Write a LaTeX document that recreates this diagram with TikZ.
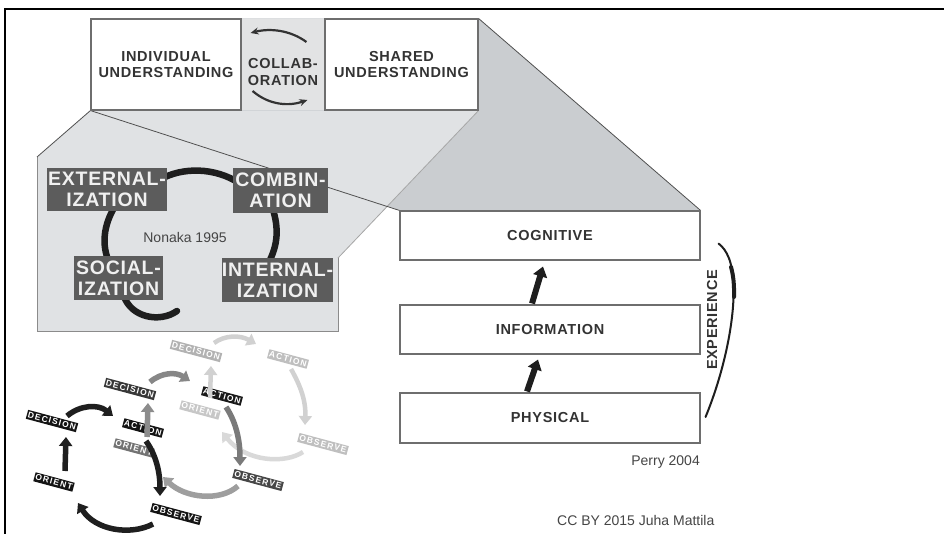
\documentclass[tikz,border=0pt]{standalone}
\usepackage{fontspec}
\setmainfont{Liberation Sans}
\newfontfamily\spaced[LetterSpace=5]{Liberation Sans}
\newfontfamily\tagfont[LetterSpace=4]{Liberation Sans}
\newfontfamily\oodafont[LetterSpace=14]{Liberation Sans}
\usetikzlibrary{arrows.meta,calc,backgrounds}

\definecolor{funnel}{HTML}{CACDD0}
\definecolor{pane}{HTML}{E0E2E4}
\definecolor{collabfill}{HTML}{E2E3E4}
\definecolor{boxline}{HTML}{6E6E6E}
\definecolor{ink}{HTML}{333333}
\definecolor{tagfill}{HTML}{5C5C5C}
\definecolor{arcink}{HTML}{1E1E1E}
\definecolor{notegray}{HTML}{454545}
\definecolor{edgeink}{HTML}{505050}

\pgfdeclarelayer{arcs}
\pgfsetlayers{background,arcs,main}

\begin{document}
\begin{tikzpicture}[x=1pt, y=-1pt,
  topbox/.style={draw=boxline, line width=1.1pt, fill=white, inner sep=0pt, align=center, text=ink,
    font=\spaced\bfseries\fontsize{14.5}{16.5}\selectfont},
  ttext/.style={inner sep=0pt, align=center, text=ink, font=\spaced\bfseries\fontsize{14.5}{16.5}\selectfont},
  tag/.style={fill=tagfill, text=white!94!black, inner sep=0pt, align=center,
    font=\tagfont\bfseries\fontsize{19.5}{21}\selectfont},
  ooda/.style={fill=#1, text=white, inner xsep=1.2pt, inner ysep=1.6pt, rotate=-15,
    font=\oodafont\bfseries\fontsize{8.5}{9}\selectfont},
  note/.style={inner sep=0pt, text=notegray, font=\fontsize{14}{16}\selectfont},
  seci/.style={draw=arcink, line width=6.5pt, line cap=round},
  rise/.style={draw=arcink, line width=6pt, -{Triangle[width=14pt,length=10pt]}},
  trade/.style={draw=ink, line width=2.2pt, -{Stealth[length=8pt,width=7pt]}},
  oodaarrow/.style={draw=#1, line width=5.5pt, -{Triangle[width=13pt,length=9pt]}},
  thinedge/.style={draw=edgeink, line width=0.8pt}
]
\useasboundingbox (0,0) rectangle (944,534);

% ---- top row: individual / collaboration / shared ----
\node[fill=collabfill, minimum width=84pt, minimum height=91pt, inner sep=0pt] (collab) at (283,64.5) {};
\node[ttext] (collabtext) at (283,72) {COLLAB-\\ORATION};
\node[topbox, minimum width=150pt, minimum height=91pt] (indiv) at (166,64.5) {INDIVIDUAL\\UNDERSTANDING};
\node[topbox, minimum width=153pt, minimum height=91pt] (shared) at (401.5,64.5) {SHARED\\UNDERSTANDING};

\draw[trade] ($(shared.west)+(-18,-22.5)$) .. controls (290,30) and (270,28) .. ($(indiv.east)+(9,-31.5)$);
\draw[trade] ($(indiv.east)+(11,26.5)$) .. controls (270,106) and (290,106) .. ($(shared.west)+(-17,35.5)$);

% ---- layer stack ----
\node[topbox, minimum width=300pt, minimum height=49pt] (cog) at (550,235.5) {COGNITIVE};
\node[topbox, minimum width=300pt, minimum height=49pt] (info) at (550,329.5) {INFORMATION};
\node[topbox, minimum width=300pt, minimum height=50pt] (phys) at (550,418) {PHYSICAL};

\draw[rise] ($(info.north)+(-18,-1)$) -- ($(cog.south)+(-7,6)$);
\draw[rise] ($(phys.north)+(-23,-1)$) -- ($(info.south)+(-12,5)$);

\node[ttext, rotate=90] (exp) at (712,320) {EXPERIENCE};
\draw[arcink, line width=2pt, line cap=round] ($(phys.east)+(5,-1)$) .. controls (724,372) and (735,320) .. (733.5,284)
  .. controls (732.5,262) and (727,250) .. ($(cog.south east)+(18,-17)$);
\draw[arcink, line width=4pt, line cap=round] (734,297) .. controls (734.3,285) and (733.5,276) .. (731,267);

\node[note, anchor=east] (perry) at (700,462) {Perry 2004};
\node[note, anchor=west] (cc) at (557,520) {CC BY 2015 Juha Mattila};

% ---- knowledge creation spiral ----
\node[tag, minimum width=120pt, minimum height=43pt] (ext) at (107,189.5) {EXTERNAL-\\IZATION};
\node[tag, minimum width=95pt, minimum height=45pt] (comb) at (280.5,190.5) {COMBIN-\\ATION};
\node[tag, minimum width=89pt, minimum height=44pt] (social) at (118.5,278) {SOCIAL-\\IZATION};
\node[tag, minimum width=111pt, minimum height=44pt] (intern) at (277.5,280) {INTERNAL-\\IZATION};
\node[note] (nonaka) at (185,237) {Nonaka 1995};
\coordinate (secitail) at (177,311);

\begin{pgfonlayer}{arcs}
  \draw[seci] ($(ext.east)+(-7,-10)$) .. controls (182,167) and (215,167) .. ($(comb.west)+(7,-7)$);
  \draw[seci] ($(comb.south)+(-8,-5)$) .. controls (279,228) and (278,245) .. ($(intern.north)+(-9,5)$);
  \draw[seci] ($(ext.south)+(8,-5)$) .. controls (103,226) and (102,245) .. ($(social.north)+(-10,5)$);
  \draw[seci] ($(social.south)+(5,-5)$) .. controls (131,318) and (160,323) .. (secitail);
\end{pgfonlayer}

% ---- backdrop: projection planes and frame ----
\begin{pgfonlayer}{background}
  \fill[white] (0,0) rectangle (944,534);
  \fill[funnel] (indiv.south west) -- (cog.north west) -- (cog.north east) -- (shared.north east) -- (indiv.north west) -- cycle;
  \fill[pane] (indiv.south west) -- (37,157) -- (37,331) -- (338,331) -- (338,258) -- (shared.south east) -- cycle;
  \draw[boxline!80, line width=1pt] (37,157) -- (37,331) -- (338,331) -- (338,258);
  \draw[black!35, line width=0.8pt] (338,258) -- (shared.south east);
  \draw[thinedge] (indiv.south west) -- (37,157);
  \draw[thinedge] (indiv.south west) -- (cog.north west);
  \draw[thinedge] (shared.north east) -- (cog.north east);
  \draw[black, line width=1.8pt] (5,534) -- (5,9) -- (944,9);
\end{pgfonlayer}

% ---- OODA loops, faded from back to front ----
\node[ooda=black!30] (d3) at (196,351) {DECISION};
\node[ooda=black!25] (a3) at (288,359) {ACTION};
\node[ooda=black!22] (o3) at (200,410) {ORIENT};
\node[ooda=black!25] (b3) at (323,444) {OBSERVE};

\node[ooda=black!78] (d2) at (130,389) {DECISION};
\node[ooda=black!90] (a2) at (222,396) {ACTION};
\node[ooda=black!55] (o2) at (134,448) {ORIENT};
\node[ooda=black!72] (b2) at (258,480) {OBSERVE};

\node[ooda=black!92] (d1) at (52,421) {DECISION};
\node[ooda=black!92] (a1) at (143,428) {ACTION};
\node[ooda=black!92] (o1) at (54,482) {ORIENT};
\node[ooda=black!92] (b1) at (176,514) {OBSERVE};

\draw[oodaarrow=black!18, line width=4.5pt] ($(o3)+(10,-12)$) -- ($(d3)+(15,15)$);
\draw[oodaarrow=black!18, line width=4.5pt] ($(d3)+(18,-8)$) .. controls (225,335) and (240,335) .. ($(a3)+(-32,-15)$);
\draw[oodaarrow=black!18, line width=4.5pt] ($(a3)+(3,10)$) .. controls (300,385) and (306,400) .. ($(b3)+(-18,-19)$);
\draw[oodaarrow=black!15, line width=4.5pt] ($(b3)+(-20,8)$) .. controls (285,464) and (246,462) .. ($(o3)+(22,22)$);

\draw[oodaarrow=black!45] ($(o2)+(13,-11)$) -- ($(d2)+(18,14)$);
\draw[oodaarrow=black!47] ($(d2)+(20,-7)$) .. controls (162,372) and (176,372) .. ($(a2)+(-32,-15)$);
\draw[oodaarrow=black!52] ($(a2)+(4,11)$) .. controls (236,422) and (240,440) .. ($(b2)+(-18,-14)$);
\draw[oodaarrow=black!38] ($(b2)+(-20,6)$) .. controls (220,502) and (185,498) .. ($(o2)+(29,29)$);

\draw[oodaarrow=black!88] ($(o1)+(11,-11)$) -- ($(d1)+(14,16)$);
\draw[oodaarrow=black!88] ($(d1)+(15,-5)$) .. controls (80,405) and (98,404) .. ($(a1)+(-30,-12)$);
\draw[oodaarrow=black!88] ($(a1)+(3,13)$) .. controls (156,455) and (160,472) .. ($(b1)+(-16,-18)$);
\draw[oodaarrow=black!88] ($(b1)+(-23,10)$) .. controls (130,536) and (95,530) .. ($(o1)+(24,21)$);
\end{tikzpicture}
\end{document}
